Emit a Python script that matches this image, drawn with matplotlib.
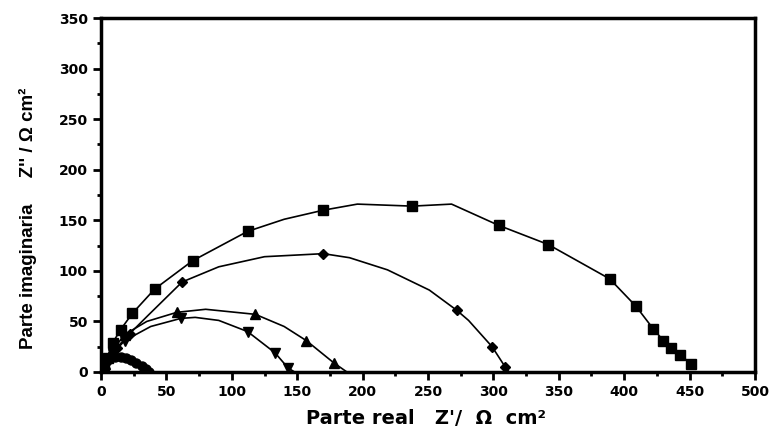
import matplotlib
matplotlib.use("Agg")
import matplotlib.pyplot as plt
from matplotlib.ticker import MultipleLocator

plt.rcParams['font.family'] = ['Liberation Sans', 'DejaVu Sans']

# Nyquist data: (Z' , Z'') in ohm cm^2; marks[i] says whether a symbol is drawn at that vertex
s1_x = [2, 5, 9, 15, 24, 41, 70, 112, 140, 170, 196, 238, 268, 304, 342, 389, 409, 422, 430, 436, 443, 451]
s1_y = [4, 14, 29, 42, 58, 82, 110, 139, 151, 160, 166, 164, 166, 145, 126, 92, 65, 43, 31, 24, 17, 8]
s1_m = [1, 1, 1, 1, 1, 1, 1, 1, 0, 1, 0, 1, 0, 1, 1, 1, 1, 1, 1, 1, 1, 1]

s2_x = [1, 5, 12, 22, 36, 62, 90, 125, 170, 190, 219, 251, 272, 281, 299, 309, 312]
s2_y = [3, 11, 24, 38, 56, 89, 104, 114, 117, 113, 101, 81, 61, 51, 25, 5, 0]
s2_m = [1, 1, 1, 1, 0, 1, 0, 0, 1, 0, 0, 0, 1, 0, 1, 1, 0]

s3_x = [1, 3, 8, 18, 35, 58, 80, 118, 140, 157, 178, 188]
s3_y = [2, 8, 20, 37, 50, 59, 62, 57, 45, 31, 9, 0]
s3_m = [1, 1, 1, 1, 0, 1, 0, 1, 0, 1, 1, 0]

s4_x = [1, 4, 9, 18, 38, 61, 72, 90, 112, 133, 143, 148]
s4_y = [3, 9, 18, 31, 45, 53, 54, 51, 40, 19, 4, 0]
s4_m = [1, 1, 1, 1, 0, 1, 0, 0, 1, 1, 1, 0]

s5_x = [0, 1, 2, 4, 7, 11, 15, 19, 23, 27, 31, 34, 37]
s5_y = [1, 5, 9, 12, 14, 15, 15, 14, 12, 9, 6, 3, 0]
s5_m = [1, 1, 1, 1, 1, 1, 1, 1, 1, 1, 1, 1, 1]

series = [
    (s1_x, s1_y, s1_m, 's', 6.5),
    (s2_x, s2_y, s2_m, 'D', 5.5),
    (s3_x, s3_y, s3_m, '^', 6.5),
    (s4_x, s4_y, s4_m, 'v', 6.5),
    (s5_x, s5_y, s5_m, 'o', 6.5),
]

x_ticks = list(range(0, 501, 50))
y_ticks = list(range(0, 351, 50))

fig = plt.figure(figsize=(7.73, 4.30), dpi=100)
ax = fig.add_axes([0.1307, 0.1349, 0.846, 0.8232])

for xs, ys, ms, mk, sz in series:
    idx = [i for i, m in enumerate(ms) if m]
    ax.plot(xs, ys, color='black', lw=1.2, marker=mk, markersize=sz,
            markevery=idx, markerfacecolor='black', markeredgecolor='black')

ax.set_xlim(0, 500)
ax.set_ylim(0, 350)
ax.set_xticks(x_ticks)
ax.set_yticks(y_ticks)
ax.xaxis.set_minor_locator(MultipleLocator(25))
ax.yaxis.set_minor_locator(MultipleLocator(25))
ax.tick_params(axis='both', which='major', direction='out', length=6, width=2,
               labelsize=10)
ax.tick_params(axis='both', which='minor', direction='out', length=3, width=2)
for lab in ax.get_xticklabels() + ax.get_yticklabels():
    lab.set_fontweight('bold')
    lab.set_family('DejaVu Sans')
for sp in ax.spines.values():
    sp.set_linewidth(2.5)

ax.set_xlabel("Parte real   Z'/  \u03a9  cm\u00b2", fontsize=14, fontweight='bold',
              family='DejaVu Sans')
ax.xaxis.set_label_coords(0.497, -0.105)
ax.set_ylabel("Parte imaginaria     Z'' / \u03a9 cm\u00b2", fontsize=13.5, fontweight='bold')
ax.yaxis.set_label_coords(-0.098, 0.435)

fig.savefig("out.png", dpi=100)
